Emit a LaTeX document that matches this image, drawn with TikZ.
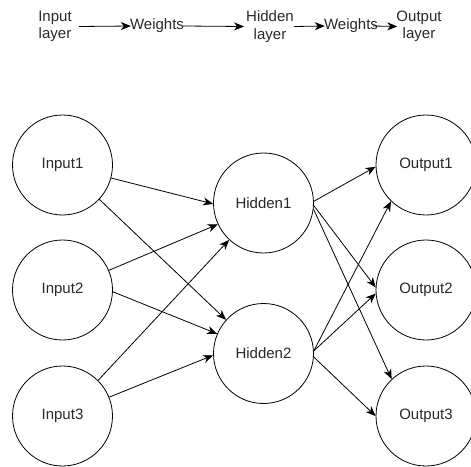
\documentclass[tikz,border=0pt]{standalone}
\usepackage{fontspec}
\setmainfont{Liberation Sans}
\usetikzlibrary{arrows.meta}
\definecolor{txt}{RGB}{40,40,40}
\begin{document}
\begin{tikzpicture}[x=1pt,y=-1pt,
  neuron/.style={draw, circle, minimum size=100pt, inner sep=0pt, line width=0.8pt, text=txt, font=\fontsize{15}{18}\selectfont},
  lbl/.style={align=center, inner sep=0pt, text=txt, font=\fontsize{15}{17.5}\selectfont},
  arr/.style={-{Stealth[length=10pt,width=8pt,inset=3pt]}, line width=0.8pt}]
\useasboundingbox (0,0) rectangle (471,466);
% top row
\node[lbl] (il) at (55,26.5) {Input\\layer};
\node[lbl] (w1) at (157,26) {Weights};
\node[lbl] (hl) at (270,26.5) {Hidden\\layer};
\node[lbl] (w2) at (351,26) {Weights};
\node[lbl] (ol) at (419,26.5) {Output\\layer};
\draw[arr] ([xshift=7pt]il.east) -- ([xshift=1pt]w1.west);
\draw[arr] ([xshift=-1pt]w1.east) -- ([xshift=-2pt]hl.west);
\draw[arr] (hl.east) -- ([xshift=1pt]w2.west);
\draw[arr] ([xshift=-5pt]w2.east) -- ([xshift=1pt]ol.west);
% neurons
\node[neuron] (i1) at (62.5,165) {Input1};
\node[neuron] (i2) at (62.5,290) {Input2};
\node[neuron] (i3) at (62.5,416) {Input3};
\node[neuron] (h1) at (263.5,203) {Hidden1};
\node[neuron] (h2) at (263.5,353.5) {Hidden2};
\node[neuron] (o1) at (426,165) {Output1};
\node[neuron] (o2) at (426,290) {Output2};
\node[neuron] (o3) at (426,416) {Output3};
% connections
\draw[arr] (i1.-15) -- (h1.181);
\draw[arr] (i1.-43) -- (h2.138);
\draw[arr] (i2.23) -- (h1.205);
\draw[arr] (i2.-2) -- (h2.157);
\draw[arr] (i3.45) -- (h1.227);
\draw[arr] (i3.22) -- (h2.182);
\draw[arr] (h1.2) -- (o1.182);
\draw[arr] (h1.-3) -- (o2.177);
\draw[arr] (h1.-7) -- (o3.133);
\draw[arr] (h2.3) -- (o1.226);
\draw[arr] (h2.3) -- (o2.184);
\draw[arr] (h2.-4) -- (o3.180);
\end{tikzpicture}
\end{document}
